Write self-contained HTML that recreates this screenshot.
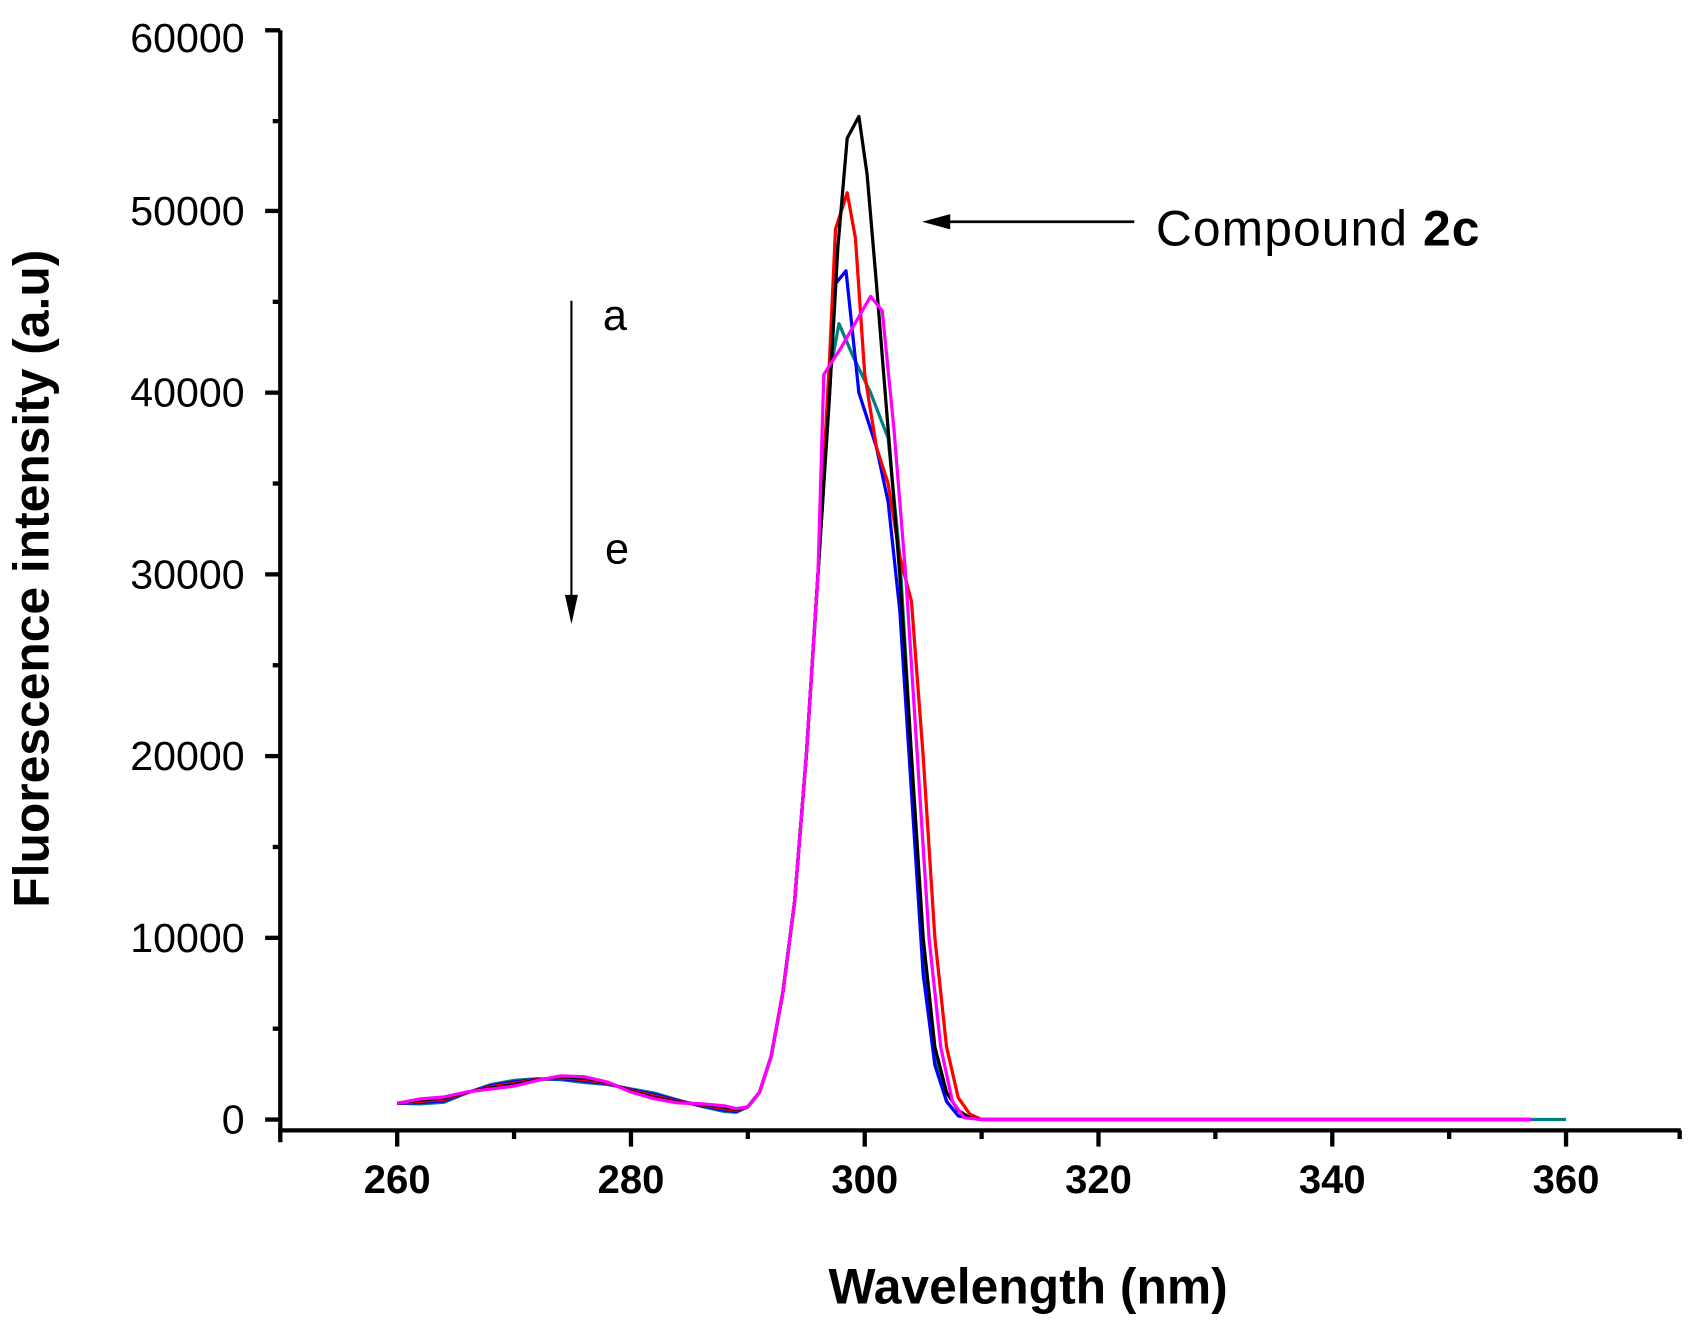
<!DOCTYPE html>
<html><head><meta charset="utf-8"><style>html,body{margin:0;padding:0;background:#fff}svg{display:block}</style></head>
<body>
<svg width="1697" height="1324" viewBox="0 0 1568 1224" preserveAspectRatio="none" xmlns="http://www.w3.org/2000/svg" font-family="Liberation Sans, Arial, sans-serif">
<rect width="1568" height="1224" fill="#fff"/>
<g stroke="#000" stroke-width="4" fill="none">
<line x1="259" y1="28" x2="259" y2="1056"/>
<line x1="257" y1="1045" x2="1553" y2="1045"/>
<line x1="245" y1="28" x2="259" y2="28"/>
<line x1="245" y1="195" x2="259" y2="195"/>
<line x1="245" y1="363" x2="259" y2="363"/>
<line x1="245" y1="531" x2="259" y2="531"/>
<line x1="245" y1="699" x2="259" y2="699"/>
<line x1="245" y1="867" x2="259" y2="867"/>
<line x1="245" y1="1035" x2="259" y2="1035"/>
<line x1="252" y1="112" x2="259" y2="112"/>
<line x1="252" y1="279" x2="259" y2="279"/>
<line x1="252" y1="447" x2="259" y2="447"/>
<line x1="252" y1="615" x2="259" y2="615"/>
<line x1="252" y1="783" x2="259" y2="783"/>
<line x1="252" y1="951" x2="259" y2="951"/>
<line x1="367" y1="1045" x2="367" y2="1060"/>
<line x1="583" y1="1045" x2="583" y2="1060"/>
<line x1="799" y1="1045" x2="799" y2="1060"/>
<line x1="1015" y1="1045" x2="1015" y2="1060"/>
<line x1="1231" y1="1045" x2="1231" y2="1060"/>
<line x1="1447" y1="1045" x2="1447" y2="1060"/>
<line x1="475" y1="1045" x2="475" y2="1053"/>
<line x1="691" y1="1045" x2="691" y2="1053"/>
<line x1="907" y1="1045" x2="907" y2="1053"/>
<line x1="1123" y1="1045" x2="1123" y2="1053"/>
<line x1="1339" y1="1045" x2="1339" y2="1053"/>
<line x1="1552" y1="1045" x2="1552" y2="1053"/>
</g>
<g font-size="38" text-anchor="end" fill="#000">
<text x="226" y="48">60000</text><text x="226" y="208">50000</text><text x="226" y="376">40000</text>
<text x="226" y="544">30000</text><text x="226" y="712">20000</text><text x="226" y="880">10000</text>
<text x="226" y="1048">0</text>
</g>
<g font-size="37" font-weight="bold" text-anchor="middle" fill="#000">
<text x="367" y="1103">260</text><text x="583" y="1103">280</text><text x="799" y="1103">300</text>
<text x="1015" y="1103">320</text><text x="1231" y="1103">340</text><text x="1447" y="1103">360</text>
</g>
<text x="950" y="1205" font-size="46" font-weight="bold" text-anchor="middle">Wavelength (nm)</text>
<text transform="translate(45,535) rotate(-90)" font-size="46" font-weight="bold" text-anchor="middle">Fluorescence intensity (a.u)</text>
<text x="1068" y="227" font-size="46" textLength="299">Compound <tspan font-weight="bold">2c</tspan></text>
<line x1="1048" y1="205" x2="870" y2="205" stroke="#000" stroke-width="2.5"/>
<polygon points="852,205 878,198 878,212" fill="#000"/>
<line x1="528" y1="278" x2="528" y2="555" stroke="#000" stroke-width="2"/>
<polygon points="528,577 522,550 534,550" fill="#000"/>
<text x="557" y="305" font-size="40">a</text>
<text x="559" y="521" font-size="40">e</text>
<g fill="none" stroke-width="3" stroke-linejoin="round" id="curves"></g>
<script>
var base=[[260,900],[262,1000],[264,1100],[266,1500],[268,1800],[270,2000],[272,2200],[274,2300],[276,2200],[278,2000],[280,1600],[282,1300],[284,1000],[286,800],[288,600],[289,500],[290,700],[291,1500],[292,3500],[293,7000],[294,12000],[295,20000],[296,30000]];
var S={
'#008080':[[297,41000],[297.8,43800],[299,42000],[300.5,40000],[302,37500],[303,31000],[304,20000],[305,9000],[306,3500],[307,1000],[308,200],[310,0],[360,0]],
'#0000ff':[[297,40000],[297.5,46000],[298.4,46700],[299.5,40000],[301,37000],[302,34000],[303,28000],[304,18000],[305,8000],[306,3000],[307,1000],[308,200],[310,0],[357,0]],
'#ff0000':[[297,42000],[297.5,49000],[298.5,51000],[299.2,48500],[300,41000],[301,37000],[302,35000],[303,31000],[304,28500],[305,20000],[306,10000],[307,4000],[308,1200],[309,300],[310,0],[357,0]],
'#000000':[[297,40000],[297.7,48000],[298.5,54000],[299.5,55200],[300.2,52000],[301,46000],[302,38000],[303,30000],[304,20000],[305,10000],[306,4000],[307,1500],[308,500],[309,100],[310,0],[357,0]],
'#ff00ff':[[296.5,41000],[298,42500],[300.5,45300],[301.5,44500],[302.5,38000],[303.5,30000],[304.5,20000],[305.5,10000],[306.5,4000],[307.5,1000],[308.5,100],[310,0],[357,0]]};
var g=document.getElementById('curves'),k=0;
for(var c in S){var pts=base.concat(S[c]).map(function(p,i){var v=p[1];if(p[0]<290)v+=(k-2)*80*Math.sin(i);return (367+(p[0]-260)*10.8).toFixed(1)+','+(1035-v*0.0168).toFixed(1)}).join(' ');
var e=document.createElementNS('http://www.w3.org/2000/svg','polyline');e.setAttribute('points',pts);e.setAttribute('stroke',c);g.appendChild(e);k++;}
</script>
</svg>
</body></html>
